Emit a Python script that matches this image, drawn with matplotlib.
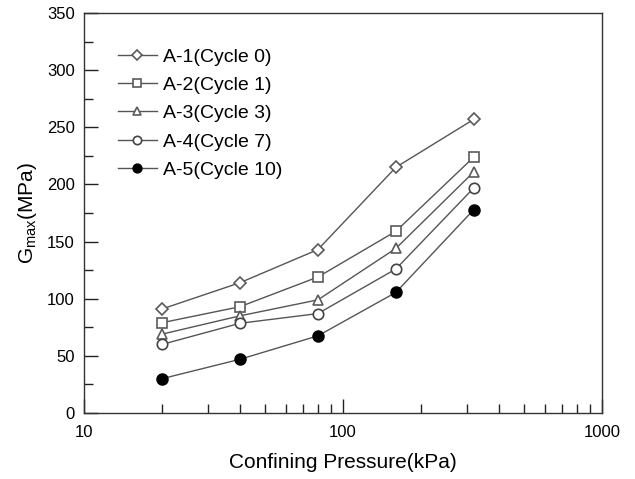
import matplotlib
matplotlib.use("Agg")
import matplotlib.pyplot as plt
from matplotlib.ticker import LogLocator, NullFormatter, MultipleLocator

plt.rcParams['font.family'] = ['Liberation Sans', 'DejaVu Sans']
plt.rcParams['mathtext.fontset'] = 'custom'
plt.rcParams['mathtext.rm'] = 'Liberation Sans'

# confining pressure (kPa)
pressure = [20, 40, 80, 160, 320]
# Gmax (MPa) per specimen
a1 = [91, 114, 143, 215, 257]
a2 = [79, 93, 119, 159, 224]
a3 = [69, 85, 99, 144, 211]
a4 = [60, 78.5, 87, 126, 197]
a5 = [30, 47, 67.5, 105.5, 178]
labels = ["A-1(Cycle 0)", "A-2(Cycle 1)", "A-3(Cycle 3)", "A-4(Cycle 7)", "A-5(Cycle 10)"]

fig = plt.figure(figsize=(6.35, 4.79), dpi=100)
ax = fig.add_axes([0.1323, 0.1378, 0.8157, 0.835])

line_c = '#555555'
mk_c = '#5a5a5a'
ax.plot(pressure, a1, color=line_c, lw=1.0, marker='D', ms=6.5, mfc='white', mec=mk_c, mew=1.2, label=labels[0])
ax.plot(pressure, a2, color=line_c, lw=1.0, marker='s', ms=7.5, mfc='white', mec=mk_c, mew=1.2, label=labels[1])
ax.plot(pressure, a3, color=line_c, lw=1.0, marker='^', ms=7.5, mfc='white', mec=mk_c, mew=1.2, label=labels[2])
ax.plot(pressure, a4, color=line_c, lw=1.0, marker='o', ms=7.5, mfc='white', mec='#444444', mew=1.2, label=labels[3])
ax.plot(pressure, a5, color=line_c, lw=1.0, marker='o', ms=8, mfc='black', mec='black', label=labels[4])

ax.set_xscale('log')
ax.set_xlim(10, 1000)
ax.set_ylim(0, 350)
ax.yaxis.set_major_locator(MultipleLocator(50))
ax.yaxis.set_minor_locator(MultipleLocator(25))
ax.set_xticks([10, 100, 1000])
ax.set_xticklabels(['10', '100', '1000'])
ax.xaxis.set_minor_locator(LogLocator(base=10, subs=range(2, 10)))
ax.xaxis.set_minor_formatter(NullFormatter())
ax.tick_params(axis='both', which='major', direction='in', length=10, width=1.0, labelsize=12, color='#222222')
ax.tick_params(axis='both', which='minor', direction='in', length=6.5, width=1.0, color='#222222')
ax.tick_params(axis='x', which='major', pad=9)
ax.tick_params(axis='y', which='major', pad=6.5)
for s in ax.spines.values():
    s.set_color('#333333')
    s.set_linewidth(1.0)

ax.set_xlabel('Confining Pressure(kPa)', fontsize=15, labelpad=9)
ax.set_ylabel(r'G$_{\mathrm{max}}$(MPa)', fontsize=15, labelpad=6)

leg = ax.legend(loc='upper left', bbox_to_anchor=(0.0656, 0.9125), frameon=False, fontsize=14,
                borderpad=0, borderaxespad=0, markerscale=0.8,
                handlelength=2.0, handletextpad=0.33, labelspacing=0.55)

fig.savefig('out.png', dpi=100)
